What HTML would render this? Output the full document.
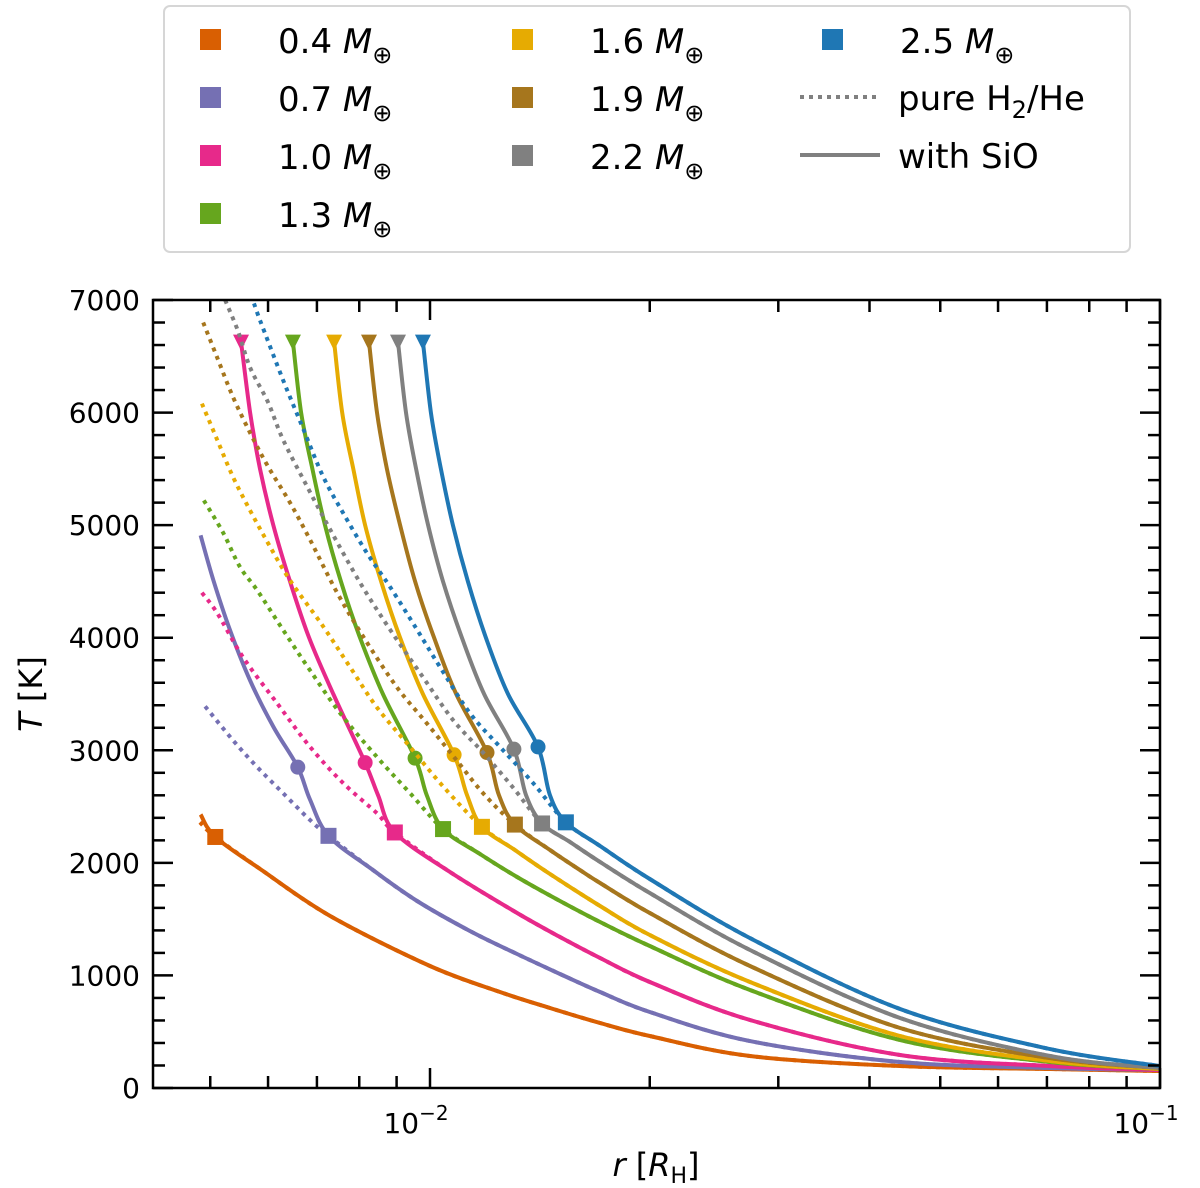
<!DOCTYPE html>
<html><head><meta charset="utf-8"><style>
html,body{margin:0;padding:0;background:#fff}
svg{display:block;font-family:"DejaVu Sans","Liberation Sans",sans-serif}
</style></head><body>
<svg id="chart" width="1200" height="1188" viewBox="0 0 1200 1188" xmlns="http://www.w3.org/2000/svg">
<defs><clipPath id="plotclip"><rect x="153" y="300" width="1007" height="788"/></clipPath></defs>
<g id="legend">
<rect x="164" y="6" width="966" height="246" rx="6" fill="#fff" stroke="#d6d6d6" stroke-width="2"/>
</g>
<g id="plot" clip-path="url(#plotclip)"></g>
<g id="axes"></g>
</svg>
<script>
const masses = ["0.4","0.7","1.0","1.3","1.6","1.9","2.2","2.5"];
const colors = ["#d95f02","#7570b3","#e7298a","#66a61e","#e6ab02","#a6761d","#808080","#1f77b4"];
const yTicks = [0,1000,2000,3000,4000,5000,6000,7000];

// pure H2/He (dotted) up to the square marker
const dotR_04 = [0.00484,0.00508];
const dotT_04 = [2360,2230];
const dotR_07 = [0.00492,0.00537,0.0058,0.00629,0.00685,0.00726];
const dotT_07 = [3390,3090,2850,2620,2380,2240];
const dotR_10 = [0.00487,0.00511,0.00554,0.00617,0.00685,0.0076,0.00846,0.00895];
const dotT_10 = [4400,4220,3830,3420,3030,2710,2440,2270];
const dotR_13 = [0.0049,0.00521,0.00549,0.0058,0.00629,0.00685,0.00753,0.00846,0.00939,0.01042];
const dotT_13 = [5220,4930,4630,4420,4070,3710,3330,2940,2620,2300];
const dotR_16 = [0.00487,0.00511,0.00537,0.00567,0.006,0.00643,0.00714,0.00777,0.00846,0.00939,0.01045,0.01178];
const dotT_16 = [6080,5760,5430,5130,4840,4510,4100,3740,3380,3030,2670,2320];
const dotR_19 = [0.00489,0.00511,0.00537,0.00567,0.006,0.00643,0.00685,0.00746,0.0081,0.00901,0.0099,0.01088,0.01182,0.01307];
const dotT_19 = [6800,6490,6140,5820,5520,5200,4870,4400,4010,3560,3240,2910,2620,2340];
const dotR_22 = [0.00524,0.00546,0.00567,0.006,0.00629,0.00679,0.0073,0.00802,0.00882,0.00978,0.01075,0.01182,0.01299,0.01424];
const dotT_22 = [7000,6720,6400,6090,5760,5340,4960,4490,4070,3650,3270,2980,2670,2350];
const dotR_25 = [0.00574,0.00585,0.00629,0.00671,0.00714,0.0076,0.0082,0.00882,0.0096,0.01032,0.01134,0.01247,0.01384,0.01535];
const dotT_25 = [6970,6820,6290,5850,5430,5110,4750,4450,4070,3740,3330,3030,2710,2360];

// with SiO (solid) up to the square marker
const solR_04 = [0.00485,0.00508];
const solT_04 = [2430,2230];
const solR_07 = [0.00485,0.00505,0.00532,0.00567,0.0061,0.00659,0.00685,0.00726];
const solT_07 = [4910,4510,4070,3620,3210,2850,2560,2240];
const solR_10 = [0.00551,0.00567,0.00585,0.0061,0.00643,0.00683,0.00737,0.00815,0.00849,0.00895];
const solT_10 = [6630,6000,5500,5000,4500,4000,3500,2890,2600,2270];
const solR_13 = [0.00649,0.00666,0.0069,0.00718,0.00755,0.00802,0.00862,0.00954,0.0099,0.01042];
const solT_13 = [6630,6000,5500,5000,4500,4000,3500,2930,2600,2300];
const solR_16 = [0.00739,0.00758,0.00785,0.00815,0.00857,0.0091,0.00978,0.01079,0.01124,0.01178];
const solT_16 = [6630,6000,5500,5000,4500,4000,3500,2960,2600,2320];
const solR_19 = [0.00825,0.00846,0.00873,0.0091,0.00954,0.01013,0.01086,0.01197,0.01243,0.01307];
const solT_19 = [6630,6000,5500,5000,4500,4000,3500,2980,2600,2340];
const solR_22 = [0.00904,0.00927,0.00957,0.00994,0.01042,0.01106,0.01186,0.01303,0.01354,0.01424];
const solT_22 = [6630,6000,5500,5000,4500,4000,3500,3010,2600,2350];
const solR_25 = [0.00978,0.01003,0.01035,0.01075,0.01127,0.01193,0.01279,0.01406,0.0146,0.01535];
const solT_25 = [6630,6000,5500,5000,4500,4000,3500,3030,2600,2360];

// shared part after the square marker (both models coincide)
const postR_04 = [0.00585,0.0073,0.01,0.01247,0.0146,0.0171,0.02,0.02744,0.04405,0.0707,0.1];
const postT_04 = [1946,1528,1084,853,711,577,462,284,195,169,151];
const postR_07 = [0.00828,0.0096,0.01134,0.01316,0.01507,0.0171,0.02,0.02744,0.04405,0.0707,0.1];
const postT_07 = [1954,1661,1395,1190,1013,853,675,417,231,178,160];
const postR_10 = [0.01065,0.01316,0.01507,0.0171,0.02,0.02744,0.04405,0.0707,0.1];
const postT_10 = [1919,1555,1341,1155,942,604,293,195,160];
const postR_13 = [0.01171,0.01316,0.01507,0.0171,0.02,0.02744,0.04405,0.0707,0.1];
const postT_13 = [2079,1874,1661,1475,1261,871,426,231,169];
const postR_16 = [0.01307,0.0146,0.0171,0.02,0.02744,0.04405,0.0707,0.1];
const postT_16 = [2114,1901,1617,1359,942,462,240,169];
const postR_19 = [0.0146,0.0162,0.0171,0.02,0.02744,0.04405,0.0707,0.1];
const postT_19 = [2114,1919,1821,1555,1084,533,266,178];
const postR_22 = [0.01555,0.0171,0.02,0.02744,0.04405,0.0707,0.1];
const postT_22 = [2185,2008,1732,1226,622,284,178];
const postR_25 = [0.0171,0.02,0.02744,0.04405,0.0707,0.1];
const postT_25 = [2150,1857,1332,702,346,195];

// markers
const circleR = [null,0.00659,0.00815,0.00954,0.01079,0.01197,0.01303,0.01406];
const circleT = [null,2850,2890,2930,2960,2980,3010,3030];
const hasTriangle = [false,false,true,true,true,true,true,true];

const dotR=[dotR_04,dotR_07,dotR_10,dotR_13,dotR_16,dotR_19,dotR_22,dotR_25];
const dotT=[dotT_04,dotT_07,dotT_10,dotT_13,dotT_16,dotT_19,dotT_22,dotT_25];
const solR=[solR_04,solR_07,solR_10,solR_13,solR_16,solR_19,solR_22,solR_25];
const solT=[solT_04,solT_07,solT_10,solT_13,solT_16,solT_19,solT_22,solT_25];
const postR=[postR_04,postR_07,postR_10,postR_13,postR_16,postR_19,postR_22,postR_25];
const postT=[postT_04,postT_07,postT_10,postT_13,postT_16,postT_19,postT_22,postT_25];

const X0=153,X1=1160,Y0=300,Y1=1088;
function xs(r){return 430+730*(Math.log10(r)+2);}
function ys(t){return Y1-(t/7000)*(Y1-Y0);}
const NS="http://www.w3.org/2000/svg";
function mk(tag,attrs,parent){const e=document.createElementNS(NS,tag);for(const k in attrs)e.setAttribute(k,attrs[k]);parent.appendChild(e);return e;}
function smooth(pts){
  if(pts.length<2)return "";
  let d="M"+pts[0][0].toFixed(1)+","+pts[0][1].toFixed(1);
  for(let i=0;i<pts.length-1;i++){
    const p0=pts[Math.max(i-1,0)],p1=pts[i],p2=pts[i+1],p3=pts[Math.min(i+2,pts.length-1)];
    const c1=[p1[0]+(p2[0]-p0[0])/6,p1[1]+(p2[1]-p0[1])/6];
    const c2=[p2[0]-(p3[0]-p1[0])/6,p2[1]-(p3[1]-p1[1])/6];
    d+="C"+c1[0].toFixed(1)+","+c1[1].toFixed(1)+" "+c2[0].toFixed(1)+","+c2[1].toFixed(1)+" "+p2[0].toFixed(1)+","+p2[1].toFixed(1);
  }
  return d;
}
const plot=document.getElementById('plot');
for(let m=0;m<masses.length;m++){
  const rest=postR[m].map((r,i)=>[xs(r),ys(postT[m][i])]);
  const dp=dotR[m].map((r,i)=>[xs(r),ys(dotT[m][i])]).concat(rest);
  const sp=solR[m].map((r,i)=>[xs(r),ys(solT[m][i])]).concat(rest);
  const d1=mk('path',{d:smooth(dp),fill:'none',stroke:colors[m],'stroke-width':4,'stroke-dasharray':'4,5'},plot);
  
  
  const s1=mk('path',{d:smooth(sp),fill:'none',stroke:colors[m],'stroke-width':4,'stroke-linejoin':'round'},plot);
  
  
  const n=solR[m].length-1;
  const sqx=xs(solR[m][n]),sqy=ys(solT[m][n]);
  const sq=mk('rect',{x:sqx-8,y:sqy-8,width:16,height:16,fill:colors[m]},plot);
  
  
  if(circleR[m]!==null){
    const c=mk('circle',{cx:xs(circleR[m]),cy:ys(circleT[m]),r:7.5,fill:colors[m]},plot);
    
    
  }
  if(hasTriangle[m]){
    const tx=xs(solR[m][0]),ty=ys(solT[m][0]);
    const t=mk('polygon',{points:(tx-8)+","+(ty-7)+" "+(tx+8)+","+(ty-7)+" "+tx+","+(ty+9),fill:colors[m]},plot);
    
    
  }
}
// axes
const ax=document.getElementById('axes');
const frame=mk('rect',{x:X0,y:Y0,width:X1-X0,height:Y1-Y0,fill:'none',stroke:'#000','stroke-width':2.5},ax);


for(let t=0;t<=7000;t+=200){
  const y=ys(t),major=(t%1000===0),L=major?20:12;
  mk('line',{x1:X0,x2:X0+L,y1:y,y2:y,stroke:'#000','stroke-width':2.5},ax);
  mk('line',{x1:X1,x2:X1-L,y1:y,y2:y,stroke:'#000','stroke-width':2.5},ax);
}
yTicks.forEach(t=>{
  const lb=mk('text',{x:140,y:ys(t)+10,'text-anchor':'end','font-size':28},ax);
  lb.textContent=String(t);
  
  
});
const xTickVals=[0.005,0.006,0.007,0.008,0.009,0.01,0.02,0.03,0.04,0.05,0.06,0.07,0.08,0.09,0.1];
xTickVals.forEach(r=>{
  const x=xs(r),major=(r===0.01||r===0.1),L=major?20:12;
  mk('line',{x1:x,x2:x,y1:Y1,y2:Y1-L,stroke:'#000','stroke-width':2.5},ax);
  mk('line',{x1:x,x2:x,y1:Y0,y2:Y0+L,stroke:'#000','stroke-width':2.5},ax);
});
[[0.01,"−2"],[0.1,"−1"]].forEach(([r,e])=>{
  const t=mk('text',{x:xs(r)-14,y:1133,'text-anchor':'middle','font-size':28},ax);
  t.innerHTML='10<tspan dy="-13" font-size="20">'+e+'</tspan>';
  
  
});
const xl=mk('text',{x:656,y:1176,'text-anchor':'middle','font-size':32},ax);
xl.innerHTML='<tspan font-style="italic">r</tspan> [<tspan font-style="italic">R</tspan><tspan font-size="22" dy="7">H</tspan><tspan dy="-7">]</tspan>';


const yl=mk('text',{x:0,y:0,'text-anchor':'middle','font-size':32,transform:'translate(42,694) rotate(-90)'},ax);
yl.innerHTML='<tspan font-style="italic">T</tspan> [K]';


// legend
const lg=document.getElementById('legend');
const legPos=[[210,40],[210,98],[210,156],[210,214],[522,40],[522,98],[522,156],[832,40]];
masses.forEach((m,i)=>{
  const [x,y]=legPos[i];
  const g=mk('g',{},lg);
  
  
  mk('rect',{x:x-10,y:y-11,width:21,height:21,fill:colors[i]},g);
  const t=mk('text',{x:x+68,y:y+13,'font-size':34},g);
  t.innerHTML=m+' <tspan font-style="italic">M</tspan><tspan font-size="24" dy="10">⊕</tspan>';
});
const g1=mk('g',{},lg);


mk('line',{x1:800,x2:880,y1:97,y2:97,stroke:'#808080','stroke-width':4,'stroke-dasharray':'4,5'},g1);
const t1=mk('text',{x:898,y:110,'font-size':34},g1);
t1.innerHTML='pure H<tspan font-size="24" dy="8">2</tspan><tspan dy="-8">/He</tspan>';
const g2=mk('g',{},lg);


mk('line',{x1:800,x2:880,y1:155,y2:155,stroke:'#808080','stroke-width':4},g2);
const t2=mk('text',{x:898,y:168,'font-size':34},g2);
t2.textContent='with SiO';
</script>
</body></html>
